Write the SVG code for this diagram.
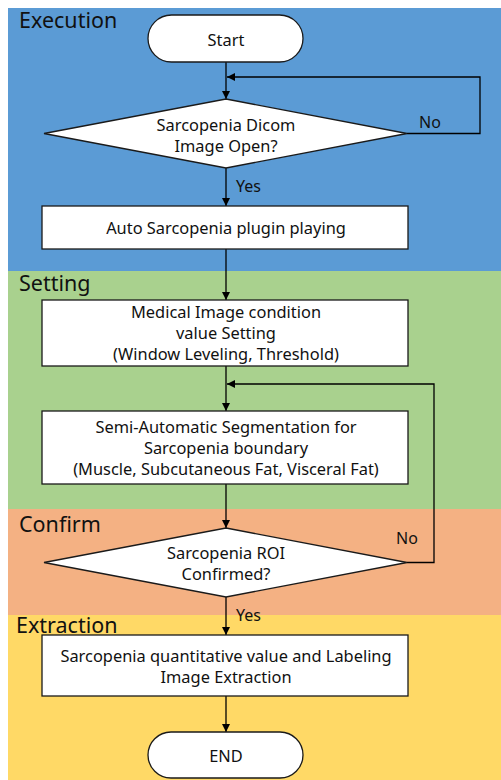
<svg xmlns="http://www.w3.org/2000/svg" width="501" height="780" viewBox="0 0 501 780">
<style>
.node{fill:#fff;stroke:#1a1a1a;stroke-width:1.3}
.t{font-family:"Noto Sans","Open Sans",sans-serif;font-size:16.4px;fill:#111;text-anchor:middle}
.lbl{font-family:"Noto Sans","Open Sans",sans-serif;font-size:16px;fill:#111}
.sec{font-family:"Noto Sans","Open Sans",sans-serif;font-size:21.5px;fill:#111}
.c{fill:none;stroke:#000;stroke-width:1.3}
</style>
<defs>
<marker id="ah" viewBox="0 0 10 10" refX="10" refY="5" markerWidth="8" markerHeight="8" markerUnits="userSpaceOnUse" orient="auto">
<path d="M0,0 L10,5 L0,10 z" fill="#000"/>
</marker>
</defs>
<rect x="0" y="0" width="501" height="780" fill="#fff"/>
<g id="lanes">
<rect x="8" y="8" width="493" height="263" fill="#5B9BD5"/>
<rect x="8" y="271" width="493" height="238" fill="#A9D18E"/>
<rect x="8" y="509" width="493" height="106" fill="#F4B183"/>
<rect x="8" y="615" width="493" height="165" fill="#FFD966"/>
<text class="sec" x="19" y="28">Execution</text>
<text class="sec" x="19" y="291">Setting</text>
<text class="sec" x="19" y="532">Confirm</text>
<text class="sec" x="16" y="633">Extraction</text>
</g>
<g id="connectors">
<line class="c" x1="226" y1="62" x2="226" y2="99" marker-end="url(#ah)"/>
<polyline class="c" points="407,133.5 480,133.5 480,77 227,77" marker-end="url(#ah)"/>
<line class="c" x1="226" y1="168" x2="226" y2="206" marker-end="url(#ah)"/>
<line class="c" x1="226" y1="249" x2="226" y2="300" marker-end="url(#ah)"/>
<line class="c" x1="226" y1="366" x2="226" y2="411" marker-end="url(#ah)"/>
<polyline class="c" points="407,562.5 434,562.5 434,384 227,384" marker-end="url(#ah)"/>
<line class="c" x1="226" y1="484" x2="226" y2="528" marker-end="url(#ah)"/>
<line class="c" x1="226" y1="597" x2="226" y2="635" marker-end="url(#ah)"/>
<line class="c" x1="226" y1="696" x2="226" y2="732" marker-end="url(#ah)"/>
<text class="lbl" x="419" y="128">No</text>
<text class="lbl" x="236" y="192">Yes</text>
<text class="lbl" x="396" y="544">No</text>
<text class="lbl" x="236" y="621">Yes</text>
</g>
<g id="start">
<rect class="node" x="148" y="15" width="155" height="47" rx="23.5"/>
<text class="t" x="226" y="46">Start</text>
</g>
<g id="decision1">
<polygon class="node" points="226,99 407,133.5 226,168 44,133.5"/>
<text class="t" x="226" y="131">Sarcopenia Dicom</text>
<text class="t" x="226" y="152">Image Open?</text>
</g>
<g id="plugin">
<rect class="node" x="42" y="206" width="366" height="43"/>
<text class="t" x="226" y="234">Auto Sarcopenia plugin playing</text>
</g>
<g id="setting">
<rect class="node" x="42" y="300" width="366" height="66"/>
<text class="t" x="226" y="318">Medical Image condition</text>
<text class="t" x="226" y="339">value Setting</text>
<text class="t" x="226" y="360">(Window Leveling, Threshold)</text>
</g>
<g id="segmentation">
<rect class="node" x="42" y="411" width="366" height="73"/>
<text class="t" x="226" y="433">Semi-Automatic Segmentation for</text>
<text class="t" x="226" y="454">Sarcopenia boundary</text>
<text class="t" x="226" y="475">(Muscle, Subcutaneous Fat, Visceral Fat)</text>
</g>
<g id="decision2">
<polygon class="node" points="226,528 407,562.5 226,597 44,562.5"/>
<text class="t" x="226" y="559">Sarcopenia ROI</text>
<text class="t" x="226" y="580">Confirmed?</text>
</g>
<g id="extraction">
<rect class="node" x="42" y="635" width="366" height="61"/>
<text class="t" x="226" y="662">Sarcopenia quantitative value and Labeling</text>
<text class="t" x="226" y="683">Image Extraction</text>
</g>
<g id="end">
<rect class="node" x="148" y="732" width="155" height="46" rx="23"/>
<text class="t" x="226" y="762">END</text>
</g>
</svg>
